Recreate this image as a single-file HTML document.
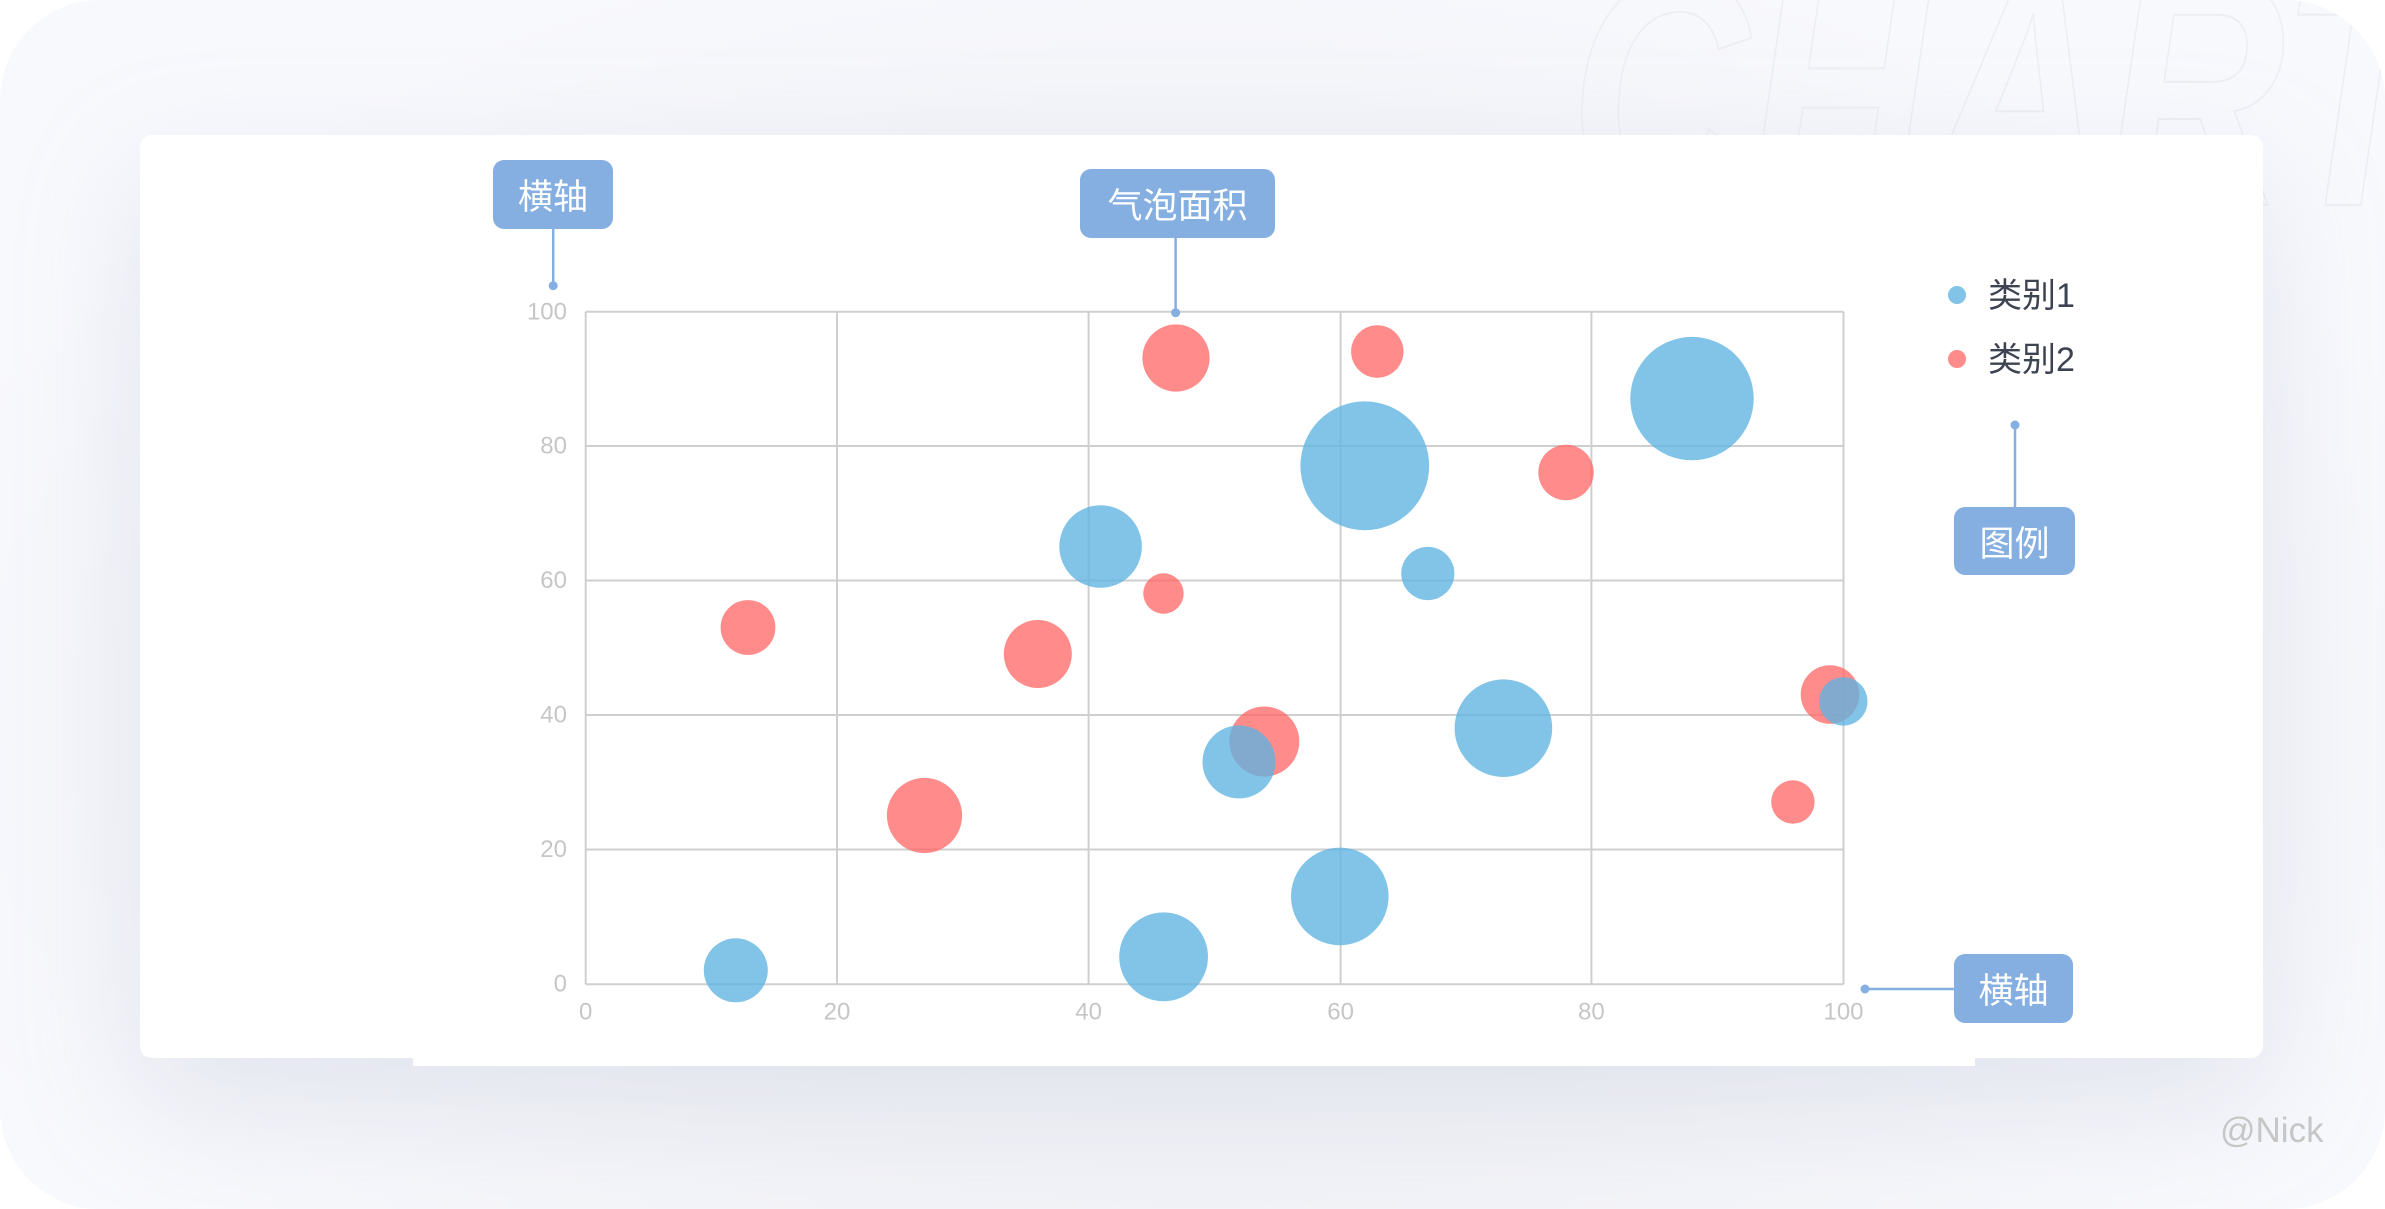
<!DOCTYPE html>
<html>
<head>
<meta charset="utf-8">
<style>
  html,body{margin:0;padding:0;}
  body{width:2385px;height:1209px;background:#ffffff;overflow:hidden;position:relative;
       font-family:"Liberation Sans","Noto Sans CJK SC",sans-serif;}
  .outer{position:absolute;left:0;top:0;width:2385px;height:1209px;border-radius:100px;
         background:radial-gradient(ellipse at 50% 60%, #eceef3 0%, #f1f2f7 45%, #f8f9fd 80%);overflow:hidden;}
  .card{position:absolute;left:140px;top:135px;width:2123px;height:923px;border-radius:12px;background:#ffffff;
        box-shadow:0 40px 120px rgba(175,180,205,0.26);}
  .ext{position:absolute;left:413px;top:1000px;width:1562px;height:66px;background:#ffffff;}
  .tag{position:absolute;background:#86afe1;border-radius:11px;color:#ffffff;display:flex;align-items:center;justify-content:center;
       font-family:"Liberation Sans","Noto Sans CJK SC",sans-serif;font-size:35px;}
  .nick{position:absolute;left:2220px;top:1111px;font-size:35px;color:#c6c6c6;font-family:"Liberation Sans",sans-serif;}
</style>
</head>
<body>
<div class="outer">
  <svg width="2385" height="1209" style="position:absolute;left:0;top:0">
    <text x="1570" y="205" font-family="Liberation Sans" font-weight="bold" font-style="italic" font-size="330"
          fill="none" stroke="#eceef4" stroke-width="2" transform="translate(1570,0) scale(0.75,1) translate(-1570,0)">CHART</text>
  </svg>
  <div class="card"></div>
  <div class="ext"></div>
</div>

<svg width="2385" height="1209" style="position:absolute;left:0;top:0">
  <!-- grid -->
  <g stroke="#cfcfcf" stroke-width="2" fill="none">
    <line x1="585.7" y1="311.7" x2="1843.5" y2="311.7"/>
    <line x1="585.7" y1="446" x2="1843.5" y2="446"/>
    <line x1="585.7" y1="580.5" x2="1843.5" y2="580.5"/>
    <line x1="585.7" y1="715" x2="1843.5" y2="715"/>
    <line x1="585.7" y1="849.5" x2="1843.5" y2="849.5"/>
    <line x1="585.7" y1="984.3" x2="1843.5" y2="984.3"/>
    <line x1="585.7" y1="311.7" x2="585.7" y2="984.3"/>
    <line x1="837" y1="311.7" x2="837" y2="984.3"/>
    <line x1="1088.6" y1="311.7" x2="1088.6" y2="984.3"/>
    <line x1="1340.6" y1="311.7" x2="1340.6" y2="984.3"/>
    <line x1="1591.4" y1="311.7" x2="1591.4" y2="984.3"/>
    <line x1="1843.5" y1="311.7" x2="1843.5" y2="984.3"/>
  </g>
  <!-- y labels -->
  <g font-family="Liberation Sans" font-size="24" fill="#c6c6c6" text-anchor="end" dominant-baseline="central">
    <text x="567" y="312">100</text>
    <text x="567" y="446">80</text>
    <text x="567" y="580.5">60</text>
    <text x="567" y="715">40</text>
    <text x="567" y="849.5">20</text>
    <text x="567" y="984">0</text>
  </g>
  <!-- x labels -->
  <g font-family="Liberation Sans" font-size="24" fill="#c6c6c6" text-anchor="middle" dominant-baseline="central">
    <text x="585.7" y="1012">0</text>
    <text x="837" y="1012">20</text>
    <text x="1088.6" y="1012">40</text>
    <text x="1340.6" y="1012">60</text>
    <text x="1591.4" y="1012">80</text>
    <text x="1843.5" y="1012">100</text>
  </g>
  <!-- red series -->
  <g fill="rgb(255,100,100)" fill-opacity="0.75">
    <circle cx="748" cy="627.5" r="27.4"/>
    <circle cx="924.5" cy="815.5" r="37.6"/>
    <circle cx="1037.8" cy="654" r="34"/>
    <circle cx="1176" cy="358" r="33.6"/>
    <circle cx="1163.5" cy="593.5" r="20.2"/>
    <circle cx="1377.3" cy="351.5" r="26.2"/>
    <circle cx="1264.3" cy="741.5" r="35"/>
    <circle cx="1566" cy="472.5" r="27.7"/>
    <circle cx="1830" cy="694.5" r="29.3"/>
    <circle cx="1792.9" cy="802" r="21.7"/>
  </g>
  <!-- blue series -->
  <g fill="rgb(95,179,226)" fill-opacity="0.78">
    <circle cx="735.8" cy="970.3" r="32"/>
    <circle cx="1163.6" cy="956.8" r="44.4"/>
    <circle cx="1339.8" cy="896.4" r="48.8"/>
    <circle cx="1239" cy="761.9" r="36.5"/>
    <circle cx="1100.6" cy="546.5" r="41.3"/>
    <circle cx="1364.8" cy="465.8" r="64.4"/>
    <circle cx="1427.8" cy="573.5" r="26.6"/>
    <circle cx="1503.4" cy="728.2" r="48.8"/>
    <circle cx="1692" cy="398.6" r="61.7"/>
    <circle cx="1843.3" cy="701.4" r="24.2"/>
  </g>
  <!-- legend -->
  <circle cx="1957" cy="295" r="9" fill="#82c4e8"/>
  <circle cx="1957" cy="359" r="9" fill="#ff8b8b"/>
  <g font-family="Liberation Sans, Noto Sans CJK SC, sans-serif" font-size="34" fill="#3d4350" dominant-baseline="central">
    <text x="1988" y="296">类别1</text>
    <text x="1988" y="360">类别2</text>
  </g>
  <!-- annotation connectors -->
  <g stroke="#86afe1" stroke-width="2.5" fill="none">
    <line x1="553.2" y1="229" x2="553.2" y2="285.7"/>
    <line x1="1175.6" y1="238" x2="1175.6" y2="312.7"/>
    <line x1="2015" y1="425" x2="2015" y2="507"/>
    <line x1="1865" y1="989" x2="1954" y2="989"/>
  </g>
  <g fill="#86afe1">
    <circle cx="553.2" cy="285.7" r="4.5"/>
    <circle cx="1175.6" cy="312.7" r="4.5"/>
    <circle cx="2015" cy="425" r="4.5"/>
    <circle cx="1865" cy="989" r="4.5"/>
  </g>
</svg>

<div class="tag" style="left:493px;top:160px;width:120px;height:69px;">横轴</div>
<div class="tag" style="left:1080px;top:169px;width:195px;height:69px;">气泡面积</div>
<div class="tag" style="left:1954px;top:507px;width:121px;height:68px;">图例</div>
<div class="tag" style="left:1954px;top:954px;width:119px;height:69px;">横轴</div>

<div class="nick">@Nick</div>
</body>
</html>
